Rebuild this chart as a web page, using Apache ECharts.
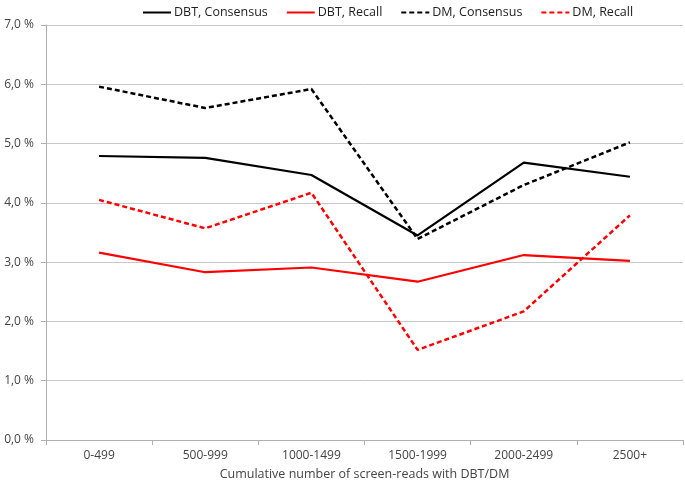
<!DOCTYPE html>
<html><head><meta charset="utf-8">
<script src="https://cdn.jsdelivr.net/npm/echarts@6/dist/echarts.min.js"></script>
<style>html,body{margin:0;padding:0;background:#fff}#c{width:685px;height:494px}</style>
</head><body><div id="c"></div>
<script>
const categories = ['0-499','500-999','1000-1499','1500-1999','2000-2499','2500+'];
const dbtConsensus = [4.79, 4.76, 4.47, 3.45, 4.68, 4.44];
const dbtRecall = [3.16, 2.83, 2.91, 2.67, 3.12, 3.02];
const dmConsensus = [5.96, 5.60, 5.92, 3.39, 4.30, 5.02];
const dmRecall = [4.05, 3.57, 4.17, 1.52, 2.17, 3.79];
const seriesNames = ['DBT, Consensus','DBT, Recall','DM, Consensus','DM, Recall'];
const xTitle = 'Cumulative number of screen-reads with DBT/DM';

const font = 'Open Sans';
const chart = echarts.init(document.getElementById('c'));
function mk(name, data, color, dashed) {
  return {
    name, type: 'line', data, symbol: 'none', smooth: false,
    lineStyle: { color, width: dashed ? 2.5 : 2.2, type: dashed ? [5, 3] : 'solid' },
    itemStyle: { color }
  };
}
chart.setOption({
  animation: false,
  textStyle: { fontFamily: font },
  legend: {
    top: 1, left: 137, itemWidth: 28, itemHeight: 10, itemGap: 18,
    itemStyle: { opacity: 0 },
    textStyle: { fontFamily: font, fontSize: 12.5, color: '#222', padding: [0, 0, 0, -2] },
    data: seriesNames
  },
  grid: { left: 46, right: 2, top: 25, bottom: 54, containLabel: false },
  xAxis: {
    type: 'category', data: categories, boundaryGap: true,
    axisLine: { lineStyle: { color: '#b0b0b0' } },
    axisTick: { show: true, lineStyle: { color: '#b0b0b0' }, length: 5 },
    axisLabel: { color: '#444', fontSize: 12, fontFamily: font, margin: 10 },
    name: xTitle, nameLocation: 'middle', nameGap: 28,
    nameTextStyle: { color: '#444', fontSize: 12.5, fontFamily: font }
  },
  yAxis: {
    type: 'value', min: 0, max: 7, interval: 1,
    axisLine: { show: true, lineStyle: { color: '#b0b0b0' } },
    axisTick: { show: true, lineStyle: { color: '#b0b0b0' }, length: 5 },
    splitLine: { lineStyle: { color: '#c8c8c8' } },
    axisLabel: { color: '#444', fontSize: 12, fontFamily: font, margin: 12,
      formatter: v => v.toFixed(1).replace('.', ',') + ' %' }
  },
  series: [
    mk(seriesNames[0], dbtConsensus, '#000000', false),
    mk(seriesNames[1], dbtRecall, '#ff0000', false),
    mk(seriesNames[2], dmConsensus, '#000000', true),
    mk(seriesNames[3], dmRecall, '#ff0000', true)
  ]
});
</script></body></html>
